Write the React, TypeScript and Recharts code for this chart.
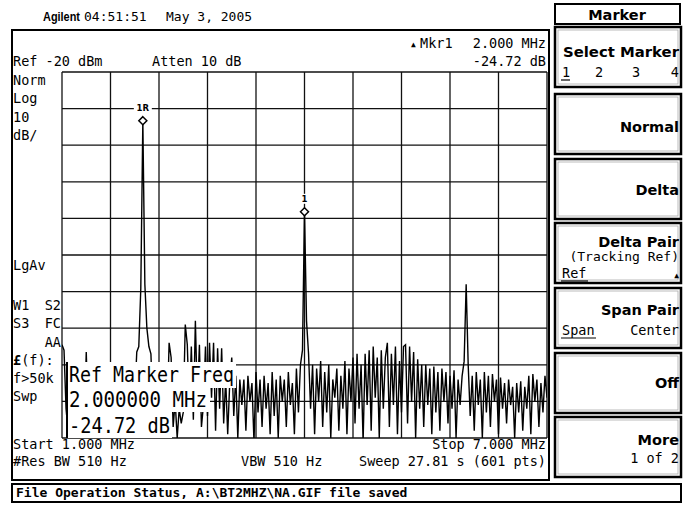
import React from 'react';
import { LineChart, Line, XAxis, YAxis, CartesianGrid, ReferenceDot } from 'recharts';

// Sweep settings
const START_MHZ = 1;
const STOP_MHZ = 7;
const REF_LEVEL = -20;
const DB_PER_DIV = 10;

// Graticule ticks
const X_TICKS = [1, 1.6, 2.2, 2.8, 3.4, 4, 4.6, 5.2, 5.8, 6.4, 7];
const Y_TICKS = [-120, -110, -100, -90, -80, -70, -60, -50, -40, -30, -20];

// Trace levels in dBm (241 points from 1 to 7 MHz)
const LEVELS = [
  -94.5, -96, -112, -118, -110, -121, -113, -117, -109, -119,
  -114, -118, -96.5, -115, -110, -120, -112, -116, -111, -119,
  -113, -109, -118, -112, -121, -110, -116, -111, -119, -113,
  -110, -117, -112, -120, -111, -115, -109, -96.5, -95, -79,
  -33.3, -78, -90, -95, -97, -113, -118, -110, -116, -112,
  -119, -111, -115, -94, -98, -117, -110, -120, -112, -116,
  -113, -89, -94.5, -112, -95, -115, -88, -110, -94.5, -117,
  -111, -95, -114, -94, -109, -94, -118, -95.5, -112, -95.5,
  -116, -104, -119, -105, -98, -114, -103, -120, -104, -111,
  -104, -118, -103, -110, -105, -121, -102, -113, -104, -117,
  -103, -112, -105, -119, -102, -114, -104, -120, -103, -110,
  -104, -117, -102, -111, -105, -119, -101, -113, -100, -96,
  -58.2, -88, -97, -112, -100, -119, -101, -110, -99, -117,
  -102, -113, -100, -120, -104, -109, -101, -118, -103, -112,
  -99, -119, -101, -110, -98, -116, -97, -112, -100, -121,
  -97, -111, -96, -118, -95, -109, -98, -120, -96, -112,
  -98, -94, -117, -97, -111, -95, -119, -99, -113, -95,
  -94.5, -116, -95, -110, -96.5, -120, -98.5, -112, -100, -117,
  -100, -111, -101, -119, -100.5, -113, -102, -118, -101, -110,
  -102, -116, -103, -112, -101.5, -120, -104, -111, -103, -99,
  -78, -100, -114, -103, -118, -102, -111, -104, -120, -102,
  -113, -103, -117, -102.5, -110, -104, -119, -103.5, -112, -105,
  -116, -104, -111, -106, -120, -105, -113, -104.5, -118, -106,
  -112, -103, -119, -102.5, -110, -104, -117, -105, -113, -103, -109,
];

const MARKER_FREQS = [2.0, 4.0];
const MARKER_LEVELS = [-33.3, -58.2];
const MARKER_LABELS = ['1R', '1'];

const SOFTKEYS = ['Select Marker', 'Normal', 'Delta', 'Delta Pair', 'Span Pair', 'Off', 'More'];

const TRACE = LEVELS.map((level, i) => ({
  freq: START_MHZ + (i * (STOP_MHZ - START_MHZ)) / (LEVELS.length - 1),
  level,
}));

const MONO = '"DejaVu Sans Mono", monospace';
const SANS = '"DejaVu Sans", sans-serif';

const MarkerGlyph = ({ cx, cy, label }: any) => (
  <g>
    <rect x={cx - label.length * 3.5 - 2} y={cy - 18} width={label.length * 7 + 4} height={10} fill="#fff" />
    <text x={cx} y={cy - 9.5} textAnchor="middle" fontSize={8.5} fontWeight="bold" fontFamily={SANS} fill="#000">
      {label}
    </text>
    <path
      d={`M${cx} ${cy - 4} L${cx + 4} ${cy} L${cx} ${cy + 4} L${cx - 4} ${cy} Z`}
      fill="#fff"
      stroke="#000"
      strokeWidth={1.5}
    />
  </g>
);

const T = ({ x, y, children, anchor = 'start', size = 13.5, weight = 'normal', family = MONO, len }: any) => (
  <text
    x={x}
    y={y}
    textAnchor={anchor}
    fontSize={size}
    fontWeight={weight}
    fontFamily={family}
    fill="#000"
    textLength={len}
    lengthAdjust={len ? 'spacingAndGlyphs' : undefined}
  >
    {children}
  </text>
);

const keyTops = [27, 94, 159, 223, 288, 353, 417];

export default function App() {
  return (
    <div style={{ position: 'absolute', left: 0, top: 0, width: 686, height: 506, background: '#fff', overflow: 'hidden' }}>
      <div style={{ position: 'absolute', left: 60, top: 70 }}>
        <LineChart width={489} height={370} data={TRACE} margin={{ top: 2, right: 2, bottom: 2, left: 2 }}>
          <CartesianGrid stroke="#111" strokeWidth={1.3} />
          <XAxis dataKey="freq" type="number" domain={[START_MHZ, STOP_MHZ]} ticks={X_TICKS} hide allowDataOverflow />
          <YAxis
            type="number"
            domain={[REF_LEVEL - 10 * DB_PER_DIV, REF_LEVEL]}
            ticks={Y_TICKS}
            hide
            allowDataOverflow
          />
          <Line
            dataKey="level"
            type="linear"
            stroke="#000"
            strokeWidth={1.4}
            dot={false}
            isAnimationActive={false}
          />
          {MARKER_FREQS.map((f, i) => (
            <ReferenceDot
              key={i}
              x={f}
              y={MARKER_LEVELS[i]}
              r={4}
              shape={(p: any) => <MarkerGlyph cx={p.cx} cy={p.cy} label={MARKER_LABELS[i]} />}
            />
          ))}
        </LineChart>
      </div>

      <svg width={686} height={506} style={{ position: 'absolute', left: 0, top: 0, pointerEvents: 'none' }}>
        {/* header */}
        <T x={43} y={21} size={13} weight="bold" family='"Liberation Sans", sans-serif' len={37}>Agilent</T>
        <T x={84} y={21} size={13}>04:51:51</T>
        <T x={166} y={21} size={13}>May 3, 2005</T>

        {/* main frame */}
        <rect x={12} y={30} width={537} height={450} fill="none" stroke="#000" strokeWidth={2} />

        <T x={13} y={66}>Ref -20 dBm</T>
        <T x={152} y={66}>Atten 10 dB</T>
        <T x={411} y={47} size={8}>▲</T>
        <T x={420} y={48}>Mkr1</T>
        <T x={546} y={48} anchor="end">2.000 MHz</T>
        <T x={546} y={66} anchor="end">-24.72 dB</T>

        <T x={13} y={85}>Norm</T>
        <T x={13} y={103}>Log</T>
        <T x={13} y={122}>10</T>
        <T x={13} y={140}>dB/</T>
        <T x={13} y={270}>LgAv</T>
        <T x={13} y={310}>W1</T>
        <T x={61} y={310} anchor="end">S2</T>
        <T x={13} y={328}>S3</T>
        <T x={61} y={328} anchor="end">FC</T>
        <T x={61} y={347} anchor="end">AA</T>
        <T x={13} y={365}>
          <tspan fontWeight="bold">£</tspan>(f):
        </T>
        <T x={13} y={383}>f&gt;50k</T>
        <T x={13} y={401}>Swp</T>

        <T x={13} y={449}>Start 1.000 MHz</T>
        <T x={546} y={449} anchor="end">Stop 7.000 MHz</T>
        <T x={13} y={466}>#Res BW 510 Hz</T>
        <T x={241} y={466}>VBW 510 Hz</T>
        <T x={546} y={466} anchor="end">Sweep 27.81 s (601 pts)</T>

        {/* reference marker readout */}
        <rect x={66} y={362} width={170} height={26} fill="#fff" />
        <rect x={66} y={388} width={144} height={24} fill="#fff" />
        <rect x={66} y={412} width={106} height={26} fill="#fff" />
        <line x1={67} y1={362} x2={67} y2={438} stroke="#000" strokeWidth={2} />
        <text transform="translate(69,382) scale(1,1.12)" fontSize={19} fontFamily={MONO} fill="#000" textLength={165} lengthAdjust="spacingAndGlyphs">Ref Marker Freq</text>
        <text transform="translate(69,407) scale(1,1.12)" fontSize={19} fontFamily={MONO} fill="#000" textLength={138} lengthAdjust="spacingAndGlyphs">2.000000 MHz</text>
        <text transform="translate(69,433) scale(1,1.12)" fontSize={19} fontFamily={MONO} fill="#000" textLength={101} lengthAdjust="spacingAndGlyphs">-24.72 dB</text>

        {/* status line */}
        <rect x={12} y={484} width={669} height={18} fill="none" stroke="#000" strokeWidth={2} />
        <T x={16} y={497} size={13} weight="bold">{'File Operation Status, A:\\BT2MHZ\\NA.GIF file saved'}</T>

        {/* softkey panel */}
        <rect x={555} y={4} width={125} height={20} fill="none" stroke="#000" strokeWidth={2} />
        <T x={617} y={20} anchor="middle" size={14.5} weight="bold" family={SANS}>Marker</T>
        {keyTops.map((top, i) => (
          <g key={i}>
            <rect x={555} y={top} width={126} height={60} fill="none" stroke="#000" strokeWidth={2.5} />
            <rect x={558} y={top + 3} width={120} height={54} fill="none" stroke="#aaa" strokeWidth={0.8} />
          </g>
        ))}
        <T x={679} y={57} anchor="end" size={14.5} weight="bold" family={SANS} len={116}>{SOFTKEYS[0]}</T>
        <T x={562} y={77}>1</T>
        <line x1={561} y1={80} x2={570} y2={80} stroke="#000" strokeWidth={1.2} />
        <T x={595} y={77}>2</T>
        <T x={632} y={77}>3</T>
        <T x={679} y={77} anchor="end">4</T>
        <T x={679} y={132} anchor="end" size={14.5} weight="bold" family={SANS}>{SOFTKEYS[1]}</T>
        <T x={679} y={195} anchor="end" size={14.5} weight="bold" family={SANS}>{SOFTKEYS[2]}</T>
        <T x={679} y={247} anchor="end" size={14.5} weight="bold" family={SANS}>{SOFTKEYS[3]}</T>
        <T x={679} y={261} anchor="end" size={13}>(Tracking Ref)</T>
        <T x={562} y={278}>Ref</T>
        <line x1={561} y1={281} x2={588} y2={281} stroke="#000" strokeWidth={1.2} />
        <T x={679} y={278} anchor="end" size={8}>▲</T>
        <T x={679} y={315} anchor="end" size={14.5} weight="bold" family={SANS}>{SOFTKEYS[4]}</T>
        <T x={562} y={335}>Span</T>
        <line x1={561} y1={338} x2={596} y2={338} stroke="#000" strokeWidth={1.2} />
        <T x={679} y={335} anchor="end">Center</T>
        <T x={679} y={388} anchor="end" size={14.5} weight="bold" family={SANS}>{SOFTKEYS[5]}</T>
        <T x={679} y={445} anchor="end" size={14.5} weight="bold" family={SANS}>{SOFTKEYS[6]}</T>
        <T x={679} y={463} anchor="end">1 of 2</T>
      </svg>
    </div>
  );
}
